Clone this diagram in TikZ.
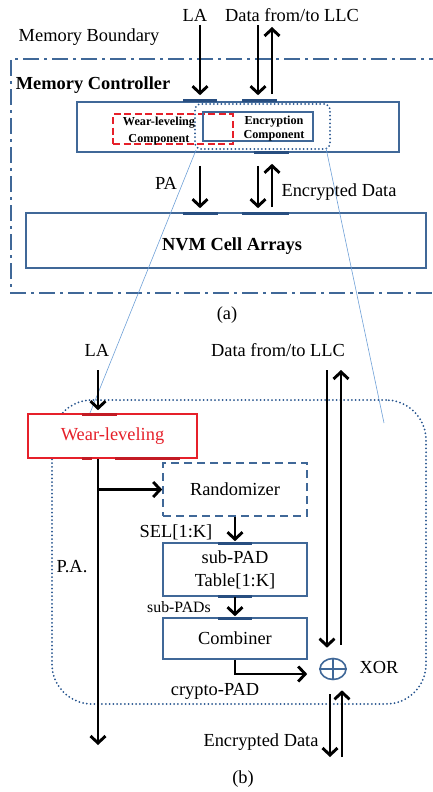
\documentclass[tikz,border=0pt]{standalone}
\usepackage{fontspec}
\setmainfont{Liberation Serif}
\usetikzlibrary{positioning, calc, shapes, arrows.meta}

\definecolor{ctrlblue}{RGB}{64,104,152}
\definecolor{glueblue}{RGB}{40,78,128}
\definecolor{dotblue}{RGB}{38,84,142}
\definecolor{wlred}{RGB}{230,32,42}
\definecolor{zoomblue}{RGB}{110,160,215}

\tikzset{
    flow/.style={line width=2.9pt, -{Straight Barb[length=7pt,width=15pt]}},
    unit/.style={draw=ctrlblue, line width=1.6pt, inner sep=0pt},
    wlunit/.style={draw=wlred, line width=1.6pt, inner sep=0pt},
    wldash/.style={draw=wlred, line width=1.8pt, dash pattern=on 7pt off 3.5pt, inner sep=0pt},
    rnddash/.style={draw=ctrlblue, line width=1.6pt, dash pattern=on 8pt off 5pt, inner sep=0pt},
    region/.style={draw=dotblue, line width=2pt, line cap=round, dash pattern=on 0pt off 3.8pt, inner sep=0pt},
    boundary/.style={draw=ctrlblue, line width=2.2pt, dash pattern=on 16pt off 5pt on 3pt off 5pt},
    glue/.style={draw=glueblue, line width=3pt},
    gluered/.style={draw=wlred!85!black, line width=3pt},
    zoomline/.style={draw=zoomblue, line width=0.6pt},
    small/.style={font=\fontsize{15.8}{18}\selectfont},
    tiny/.style={font=\bfseries\fontsize{12.2}{15}\selectfont, align=center}
}

\begin{document}
\begin{tikzpicture}[x=1pt, y=-1pt, font=\fontsize{18.4}{21}\selectfont]
\useasboundingbox (0,0) rectangle (433,792);

% (a) memory side
\node (laA) at (195,15) {LA};
\node (dataA) at (292,15) {Data from/to LLC};
\node (boundlbl) at (89,37) {Memory Boundary};
\draw[boundary] (445,59) -| (11,293) -- (445,293);
\node[font=\bfseries\fontsize{18.4}{21}\selectfont] (mclbl) at (93,85) {Memory Controller};

\node[unit, minimum width=322pt, minimum height=50pt] (mc) at (238,127) {};
\node[wldash, minimum width=120pt, minimum height=30pt] (wlc) at (173,129) {};
\node[unit, minimum width=110pt, minimum height=29pt] (encc) at (258,126.5) {};
\node[region, rounded corners=6pt, minimum width=135pt, minimum height=45pt] (encpart) at (262.5,126.5) {};
\node[tiny, font=\bfseries\fontsize{12.2}{17}\selectfont] (wlclbl) at (159,131) {Wear-leveling\\Component};
\node[tiny, font=\bfseries\fontsize{12.2}{13.5}\selectfont] (encclbl) at (274,128.5) {Encryption\\Component};

\node[unit, minimum width=400pt, minimum height=55pt] (nvm) at (226,240.5) {};
\node[font=\bfseries\fontsize{18.4}{21}\selectfont] (nvmlbl) at (232,246) {NVM Cell Arrays};

\draw[glue] (183,100) -- (217,100) (242,100) -- (277,100);
\draw[glue] (254,152) -- (289,152);
\draw[glue] (183,213) -- (218,213) (242,213) -- (289,213);

\coordinate (laAin) at (200,25);
\coordinate (dataAdn) at (258,25);
\coordinate (dataAup) at (272,27);
\draw[flow, shorten >=6pt] (laAin) -- (laAin |- mc.north);
\draw[flow, shorten >=6pt] (dataAdn) -- (dataAdn |- mc.north);
\draw[flow, shorten <=7pt] (dataAup |- mc.north) -- (dataAup);

\node (palbl) at (166,183) {PA};
\node (encdlblA) at (339,192) {Encrypted Data};
\draw[flow, shorten <=13pt, shorten >=4pt] (mc.south -| laAin) -- (nvm.north -| laAin);
\draw[flow, shorten <=13pt, shorten >=4pt] (mc.south -| dataAdn) -- (nvm.north -| dataAdn);
\draw[flow, shorten <=5pt, shorten >=11pt] (nvm.north -| dataAup) -- (mc.south -| dataAup);

\node (alabel) at (227,315) {(a)};

% zoom lines
\coordinate (zoomL) at (88,418);
\coordinate (zoomR) at (384,423);
\draw[zoomline] ($(encpart.south west)+(2,0)$) -- (zoomL);
\draw[zoomline] ($(encpart.south east)+(-5,-2)$) -- (zoomR);

% (b) encryption detail
\node (laB) at (97,350) {LA};
\node (dataB) at (278,350) {Data from/to LLC};
\node[region, rounded corners=40pt, minimum width=374pt, minimum height=304pt] (encregion) at (239,552) {};

\node[wlunit, fill=white, minimum width=169pt, minimum height=44pt, text=wlred] (wl) at (112.5,436) {Wear-leveling};
\node[rnddash, minimum width=144pt, minimum height=53pt] (rnd) at (235,489.5) {Randomizer};
\node[unit, minimum width=144pt, minimum height=53pt, align=center, font=\fontsize{18.4}{23}\selectfont] (spt) at (235,569.5) {sub-PAD\\Table[1:K]};
\node[unit, minimum width=144pt, minimum height=41pt] (cmb) at (235,638.5) {Combiner};
\node[draw=ctrlblue, line width=1.6pt, ellipse, minimum width=26pt, minimum height=21pt, inner sep=0pt] (xor) at (333,669) {};
\draw[draw=ctrlblue, line width=1.2pt] (xor.north) -- (xor.south) (xor.west) -- (xor.east);

\draw[gluered] (82,414) -- (117,414) (82,458) -- (92,458) (115,458) -- (180,458);
\draw[glue] (218,543) -- (252,543) (218,596) -- (252,596) (218,618) -- (252,618);

\coordinate (laBin) at (98,370);
\coordinate (paout) at (98,745);
\draw[flow, shorten >=3pt] (laBin) -- (laBin |- wl.north);
\draw[flow] (wl.south -| laBin) -- (paout);
\draw[flow] (laBin |- rnd.west) -- (rnd.west);
\draw[flow, shorten >=1pt] (rnd) -- (spt);
\draw[flow, shorten >=1pt] (spt) -- (cmb);
\draw[flow, shorten >=12pt] (cmb.south) |- ([yshift=-5pt]xor.west);

\node (sellbl) at (176,532) {SEL[1:K]};
\node[small] (subpadslbl) at (179,607) {sub-PADs};
\node (palblB) at (72,567) {P.A.};
\node (cryptolbl) at (215,691) {crypto-PAD};
\node (xorlbl) at (379,667) {XOR};

\coordinate (dataBdn) at (327,370);
\coordinate (dataBup) at (341,370);
\draw[flow, shorten >=10pt] (dataBdn) -- (dataBdn |- xor.north);
\draw[flow, shorten <=13pt] (dataBup |- xor.north) -- (dataBup);

\coordinate (encBdn) at (330,757);
\coordinate (encBup) at (342,757);
\draw[flow, shorten <=14pt] (encBdn |- xor.south) -- (encBdn);
\draw[flow, shorten >=10pt] (encBup) -- (encBup |- xor.south);
\node (encdlblB) at (261,742) {Encrypted Data};

\node (blabel) at (243,779) {(b)};
\end{tikzpicture}
\end{document}
